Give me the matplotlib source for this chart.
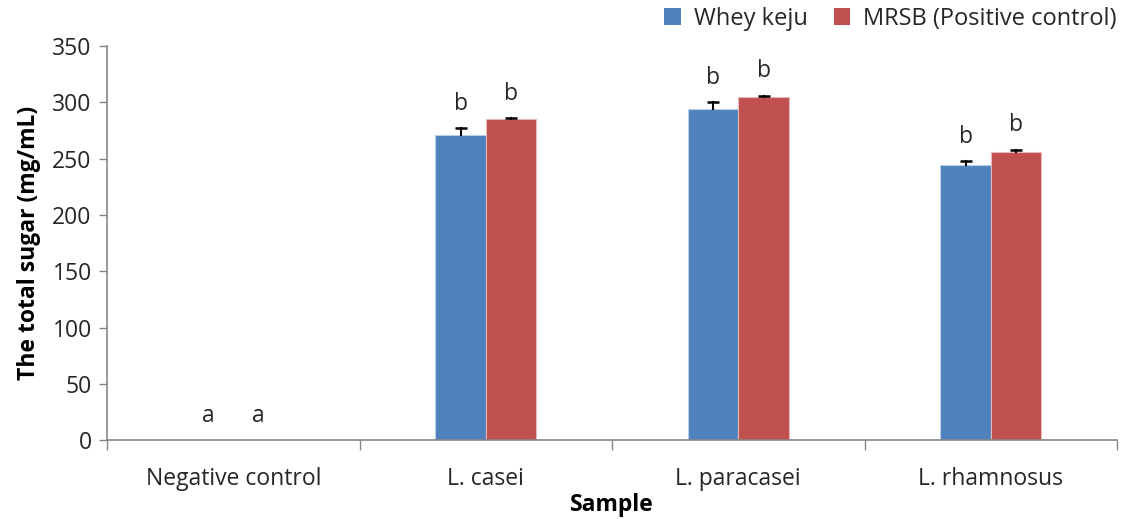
import numpy as np
import matplotlib.pyplot as plt

plt.rcParams['font.family'] = ['Open Sans', 'DejaVu Sans']

# total sugar per sample (mg/mL)
samples = ['Negative control', 'L. casei', 'L. paracasei', 'L. rhamnosus']
whey = [0, 271, 294, 244]
whey_err = [0, 6, 6, 4]
mrsb = [0, 285, 305, 256]
mrsb_err = [0, 1, 1, 2]
whey_letters = ['a', 'b', 'b', 'b']
mrsb_letters = ['a', 'b', 'b', 'b']

blue = '#4f81bd'
red = '#c0504d'
axis_grey = '#868686'
text_col = '#262626'
fs = 16.5

fig = plt.figure(figsize=(11.24, 5.19), dpi=100)
ax = fig.add_axes([0.0952, 0.152, 0.8986, 0.759])

x = np.arange(len(samples))
w = 0.2
series = [(x - w / 2, whey, whey_err, blue, '#b9cde5', 'Whey keju', whey_letters),
          (x + w / 2, mrsb, mrsb_err, red, '#e6b9b8', 'MRSB (Positive control)', mrsb_letters)]

for pos, vals, err, col, edge, name, letters in series:
    lw = [0.8 if v > 0 else 0 for v in vals]
    ax.bar(pos, vals, w, color=col, edgecolor=edge, linewidth=lw, label=name, zorder=2)
    # upper-only error bars: stem plus a cap at the top
    tops = np.array(vals) + np.array(err)
    for p, v, t in zip(pos, vals, tops):
        if t > v:
            ax.plot([p, p], [v, t], color='black', lw=1.5, zorder=3)
            ax.plot([p], [t], marker='_', ms=9, mew=1.8, color='black', zorder=3)
    # significance letters
    for p, t, lab in zip(pos, tops, letters):
        ax.text(p, t + 11, lab, ha='center', va='bottom', fontsize=fs, color=text_col)

ax.set_xlim(-0.5, len(samples) - 0.5)
ax.set_ylim(0, 350)
ax.set_yticks(range(0, 351, 50))
ax.set_xticks(x)
ax.set_xticklabels(samples, fontsize=fs, color=text_col)
ax.set_xticks(np.arange(-0.5, len(samples), 1), minor=True)
ax.tick_params(axis='x', which='major', length=0, pad=19)
ax.tick_params(axis='x', which='minor', length=7, color=axis_grey, width=1)
ax.tick_params(axis='y', length=6, color=axis_grey, width=1, pad=5, labelsize=fs, labelcolor=text_col)

for side in ['top', 'right']:
    ax.spines[side].set_visible(False)
for side in ['left', 'bottom']:
    ax.spines[side].set_color(axis_grey)
    ax.spines[side].set_linewidth(1.2)

ax.set_ylabel('The total sugar (mg/mL)', fontsize=fs, fontweight='bold', labelpad=8, color='black')
ax.set_xlabel('Sample', fontsize=fs, fontweight='bold', labelpad=2, color='black')

ax.legend(loc='lower right', bbox_to_anchor=(1.009, 1.015), ncol=2, frameon=False, fontsize=17,
          handlelength=0.7, handleheight=0.7, handletextpad=0.55, columnspacing=1.1, borderaxespad=0,
          labelcolor=text_col)

fig.savefig('out.png', dpi=100)
